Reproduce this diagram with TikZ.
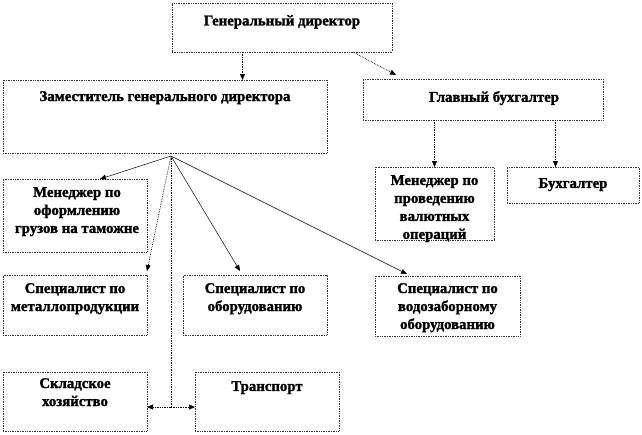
\documentclass[tikz,border=0pt]{standalone}
\usepackage{fontspec}
\setmainfont{Liberation Serif}[BoldFeatures={FakeBold=1.6}]
\usetikzlibrary{arrows.meta}
\tikzset{
  box/.style={draw=black!80, densely dotted, line width=0.7pt, inner sep=0pt, outer sep=0pt, anchor=north west},
  txt/.style={inner sep=0pt, anchor=north, align=center, font=\bfseries\fontsize{14.8}{18}\selectfont},
  tipa/.style={-{Triangle[length=6pt,width=5pt]}},
  dotline/.style={tipa, densely dotted, line width=0.7pt},
  solidline/.style={tipa, line width=0.5pt}
}
\begin{document}
\begin{tikzpicture}[x=1pt,y=-1pt]
\useasboundingbox (0,0) rectangle (642,434);
% boxes
\node[box, minimum width=220pt, minimum height=49pt] (gen) at (172,3) {};
\node[box, minimum width=324pt, minimum height=73pt] (zam) at (3,80) {};
\node[box, minimum width=240pt, minimum height=41pt] (glav) at (363,79) {};
\node[box, minimum width=119pt, minimum height=73pt] (menprov) at (375,167) {};
\node[box, minimum width=132pt, minimum height=36pt] (buh) at (507,167) {};
\node[box, minimum width=144pt, minimum height=73pt] (menof) at (3,179) {};
\node[box, minimum width=144pt, minimum height=60pt] (metal) at (3,275) {};
\node[box, minimum width=144pt, minimum height=60pt] (obor) at (183,275) {};
\node[box, minimum width=145pt, minimum height=60pt] (vodo) at (375,276) {};
\node[box, minimum width=144pt, minimum height=59pt] (sklad) at (3,372) {};
\node[box, minimum width=144pt, minimum height=59pt] (trans) at (195,372) {};
% texts
\node[txt] (tgen) at ([yshift=-12pt]gen.north) {Генеральный директор};
\node[txt] (tzam) at ([yshift=-11pt]zam.north) {Заместитель генерального директора};
\node[txt] (tglav) at ([xshift=11pt,yshift=-12pt]glav.north) {Главный бухгалтер};
\node[txt] (tmenprov) at ([yshift=-8pt]menprov.north) {Менеджер по\\проведению\\валютных\\операций};
\node[txt] (tbuh) at ([yshift=-11pt]buh.north) {Бухгалтер};
\node[txt] (tmenof) at ([xshift=2pt,yshift=-8pt]menof.north) {Менеджер по\\оформлению\\грузов на таможне};
\node[txt] (tmetal) at ([yshift=-8pt]metal.north) {Специалист по\\металлопродукции};
\node[txt] (tobor) at ([yshift=-8pt]obor.north) {Специалист по\\оборудованию};
\node[txt] (tvodo) at ([yshift=-7pt]vodo.north) {Специалист по\\водозаборному\\оборудованию};
\node[txt] (tsklad) at ([yshift=-6pt]sklad.north) {Складское\\хозяйство};
\node[txt] (ttrans) at ([yshift=-9pt]trans.north) {Транспорт};
% connectors
\coordinate (o) at ([xshift=6pt,yshift=-3pt]zam.south);
\coordinate (j) at ([yshift=-35pt]sklad.north east -| o);
\draw[dotline] ([xshift=-39.5pt]gen.south) -- ([xshift=-39.5pt]gen.south |- zam.north);
\draw[dotline] ([xshift=71pt]gen.south) -- ([xshift=-87pt,yshift=4pt]glav.north);
\draw[dotline] (glav.south -| menprov.north) -- (menprov.north);
\draw[dotline] ([xshift=-17.5pt]glav.south -| buh.north) -- ([xshift=-17.5pt]buh.north);
\draw[solidline] (o) -- ([xshift=25pt]menof.north);
\draw[dotline] (o) -- ([yshift=4pt]metal.north east);
\draw[solidline] (o) -- ([xshift=-15pt,yshift=4pt]obor.north);
\draw[solidline] (o) -- ([xshift=-40.5pt,yshift=2pt]vodo.north);
\draw[densely dotted, line width=0.7pt] (o) -- (j);
\draw[dotline] (j) -- (sklad.east |- j);
\draw[dotline] (j) -- (trans.west |- j);
\end{tikzpicture}
\end{document}
